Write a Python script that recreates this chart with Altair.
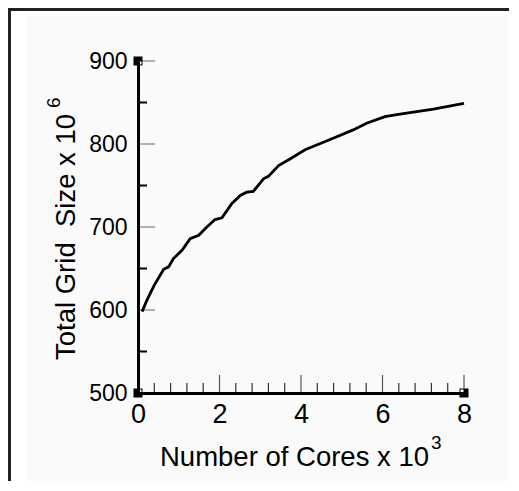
import altair as alt
import pandas as pd

# ---- data ----
cores_k = [0.1, 0.22, 0.4, 0.63, 0.75, 0.87, 1.08, 1.28, 1.49, 1.69, 1.89, 2.06,
           2.30, 2.51, 2.67, 2.83, 3.08, 3.20, 3.45, 3.73, 4.10, 4.79, 5.28, 5.61,
           6.06, 6.43, 7.25, 8.0]
grid_m = [598, 612, 630, 649, 652, 662, 672, 686, 690, 700, 709, 711,
          728, 738, 742, 743, 758, 761, 774, 782, 793, 807, 817, 825,
          833, 836, 842, 849]
x_labels = [0, 2, 4, 6, 8]
y_labels = [500, 600, 700, 800, 900]
x_major = [0, 2, 4, 6, 8]
x_minor = [0.4, 0.8, 1.2, 1.6, 2.4, 2.8, 3.2, 3.6, 4.4, 4.8, 5.2, 5.6, 6.4, 6.8, 7.2, 7.6]
y_major = [600, 700, 800, 900]
y_minor = [550, 650, 750, 850]
corner_x = [0, 0, 8]
corner_y = [900, 500, 500]

W, H = 326, 332
FONT = "Liberation Sans"

xs = alt.Scale(domain=[0, 8], nice=False, zero=False)
ys = alt.Scale(domain=[500, 900], nice=False, zero=False)
xaxis = alt.Axis(values=x_labels, ticks=False, grid=False, title=None,
                 domainColor="black", domainWidth=3, labelFont=FONT,
                 labelFontSize=27, labelColor="black", labelPadding=8,
                 labelFlush=False, labelOverlap=False, zindex=1)
yaxis = alt.Axis(values=y_labels, ticks=False, grid=False, title=None,
                 domainColor="black", domainWidth=3, labelFont=FONT,
                 labelFontSize=23, labelColor="black", labelPadding=11,
                 labelFlush=False, labelOverlap=False, zindex=1)

one = pd.DataFrame({"a": [0]})
line_df = pd.DataFrame({"x": cores_k, "y": grid_m})

bg = alt.Chart(one).mark_rect(color="#fafafa").encode(
    x=alt.value(-111), x2=alt.value(370), y=alt.value(-46), y2=alt.value(421))
border_top = alt.Chart(one).mark_rule(color="#222", strokeWidth=3).encode(
    x=alt.value(-130), x2=alt.value(380), y=alt.value(-51.5))
border_left = alt.Chart(one).mark_rule(color="#222", strokeWidth=3).encode(
    x=alt.value(-128.5), y=alt.value(-53), y2=alt.value(430))

line = alt.Chart(line_df).mark_line(color="black", strokeWidth=2.8).encode(
    x=alt.X("x:Q", scale=xs, axis=xaxis),
    y=alt.Y("y:Q", scale=ys, axis=yaxis))

def vrules(vals, length, color, sw):
    return alt.Chart(pd.DataFrame({"x": vals})).mark_rule(color=color, strokeWidth=sw).encode(
        x=alt.X("x:Q", scale=xs, axis=xaxis), y=alt.value(H), y2=alt.value(H - length))

def hrules(vals, length, color, sw):
    return alt.Chart(pd.DataFrame({"y": vals})).mark_rule(color=color, strokeWidth=sw).encode(
        y=alt.Y("y:Q", scale=ys, axis=yaxis), x=alt.value(0), x2=alt.value(length))

ticks = [vrules(x_major, 18, "#555", 1.2), vrules(x_minor, 10, "#333", 1.2),
         hrules(y_major, 17, "#888", 1.3), hrules(y_minor, 9, "black", 2)]

corner_df = pd.DataFrame({"x": corner_x, "y": corner_y})
corners = alt.Chart(corner_df).mark_square(color="black", opacity=1, size=81, filled=True).encode(
    x=alt.X("x:Q", scale=xs, axis=xaxis), y=alt.Y("y:Q", scale=ys, axis=yaxis))
notches = []
for cx, cy, dx, dy in [(0, 900, 2, 2), (0, 500, 2, -2), (8, 500, -2, -2)]:
    notches.append(alt.Chart(pd.DataFrame({"x": [cx], "y": [cy]})).mark_square(
        color="white", opacity=1, size=9, filled=True, xOffset=dx, yOffset=dy).encode(
        x=alt.X("x:Q", scale=xs, axis=xaxis), y=alt.Y("y:Q", scale=ys, axis=yaxis)))

xtitle = alt.Chart(one).mark_text(text="Number of Cores x 10", font=FONT, fontSize=27.5,
                                  align="left", baseline="alphabetic", color="black").encode(
    x=alt.value(22), y=alt.value(405))
xsup = alt.Chart(one).mark_text(text="3", font=FONT, fontSize=19,
                                align="left", baseline="alphabetic", color="black").encode(
    x=alt.value(293), y=alt.value(388))
ytitle = alt.Chart(one).mark_text(text="Total Grid\u00a0 Size x 10", font=FONT, fontSize=27.5,
                                  align="left", baseline="alphabetic", angle=270, color="black").encode(
    x=alt.value(-63), y=alt.value(299))
ysup = alt.Chart(one).mark_text(text="6", font=FONT, fontSize=19,
                                align="left", baseline="alphabetic", angle=270, color="black").encode(
    x=alt.value(-78), y=alt.value(47))

chart = alt.layer(bg, border_top, border_left, *ticks, line, corners, *notches,
                  xtitle, xsup, ytitle, ysup).properties(
    width=W, height=H,
    autosize=alt.AutoSizeParams(type="none"),
    padding={"left": 130, "top": 53, "right": 45, "bottom": 88},
).configure_view(stroke=None).configure(background="white")

chart.save("out.html", embed_options={"renderer": "svg", "actions": False})
